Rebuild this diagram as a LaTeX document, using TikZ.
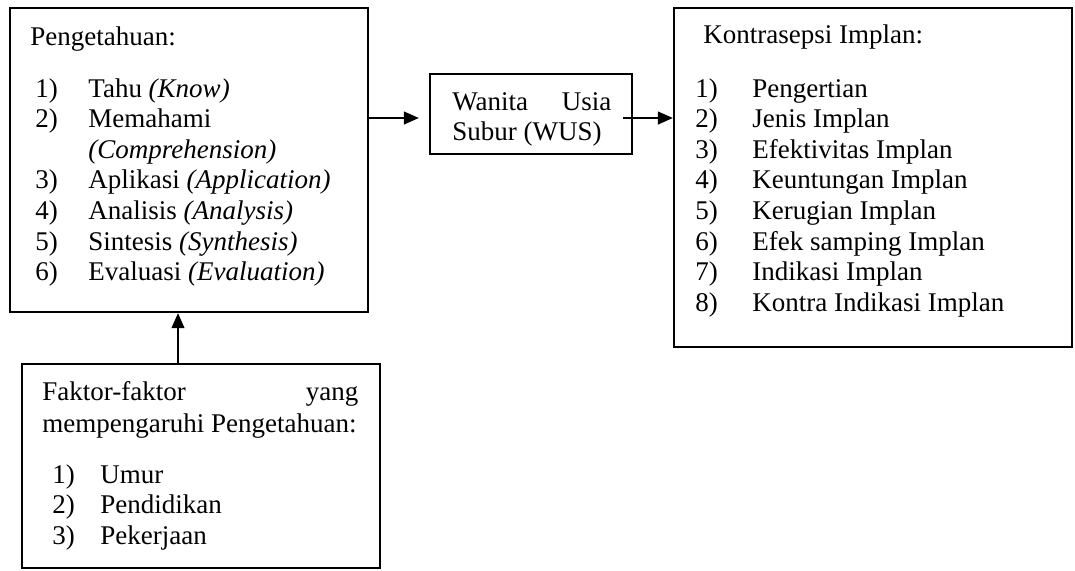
\documentclass[tikz,border=0pt]{standalone}
\usepackage{fontspec}
\setmainfont{Liberation Serif}
\usepackage{array}
\usetikzlibrary{arrows.meta, calc}

\begin{document}
\begin{tikzpicture}[x=0.5pt, y=-0.5pt,
    kotak/.style={draw, line width=1.2pt, inner sep=0pt},
    teks/.style={anchor=base west, inner sep=0pt, font=\fontsize{13.5pt}{15.3pt}\selectfont},
    panah/.style={-{Triangle[length=7.5pt, width=6.5pt]}, line width=0.6pt}]
    \useasboundingbox (0,0) rectangle (1075,570);

    % 1. Kotak-kotak
    \node[kotak, minimum width=179pt, minimum height=152pt] (tahu) at (189,160) {};
    \node[kotak, minimum width=101pt, minimum height=40pt] (wus) at (531,114) {};
    \node[kotak, minimum width=199pt, minimum height=169.5pt] (implan) at (873,177.5) {};
    \node[kotak, minimum width=179pt, minimum height=102pt] (faktor) at (201,466) {};

    % 2. Isi kotak Pengetahuan
    \node[teks] (tahu-judul) at (30,45) {Pengetahuan:};
    \node[teks] (tahu-isi) at (35,97) {\begin{tabular}[t]{@{}p{26.5pt}@{}l@{}}
        1) & Tahu \textit{(Know)}\\
        2) & Memahami\\
           & \textit{(Comprehension)}\\
        3) & Aplikasi \textit{(Application)}\\
        4) & Analisis \textit{(Analysis)}\\
        5) & Sintesis \textit{(Synthesis)}\\
        6) & Evaluasi \textit{(Evaluation)}
    \end{tabular}};

    % 3. Isi kotak WUS
    \node[teks] (wus-isi) at (452,110) {\begin{tabular}[t]{@{}p{79.5pt}@{}}
        Wanita\hfill Usia\\
        Subur (WUS)
    \end{tabular}};

    % 4. Isi kotak Kontrasepsi Implan
    \node[teks] (implan-judul) at (703,43) {Kontrasepsi Implan:};
    \node[teks] (implan-isi) at (695,97) {\begin{tabular}[t]{@{}p{28.5pt}@{}l@{}}
        1) & Pengertian\\
        2) & Jenis Implan\\
        3) & Efektivitas Implan\\
        4) & Keuntungan Implan\\
        5) & Kerugian Implan\\
        6) & Efek samping Implan\\
        7) & Indikasi Implan\\
        8) & Kontra Indikasi Implan
    \end{tabular}};

    % 5. Isi kotak Faktor
    \node[teks] (faktor-judul) at (42,400) {\begin{tabular}[t]{@{}p{158pt}@{}}
        Faktor-faktor\hfill yang\\[0.7pt]
        mempengaruhi Pengetahuan:
    \end{tabular}};
    \node[teks] (faktor-isi) at (52,483) {\begin{tabular}[t]{@{}p{24pt}@{}l@{}}
        1) & Umur\\
        2) & Pendidikan\\
        3) & Pekerjaan
    \end{tabular}};

    % 6. Panah
    \coordinate (garis) at (0,118);
    \coordinate (tiang) at (178,0);
    \draw[panah, shorten >=5pt] (tahu.east |- garis) -- (wus.west |- garis);
    \draw[panah] ($(wus.east |- garis)+(-10,0)$) -- (implan.west |- garis);
    \draw[panah] (faktor.north -| tiang) -- (tahu.south -| tiang);
\end{tikzpicture}
\end{document}
